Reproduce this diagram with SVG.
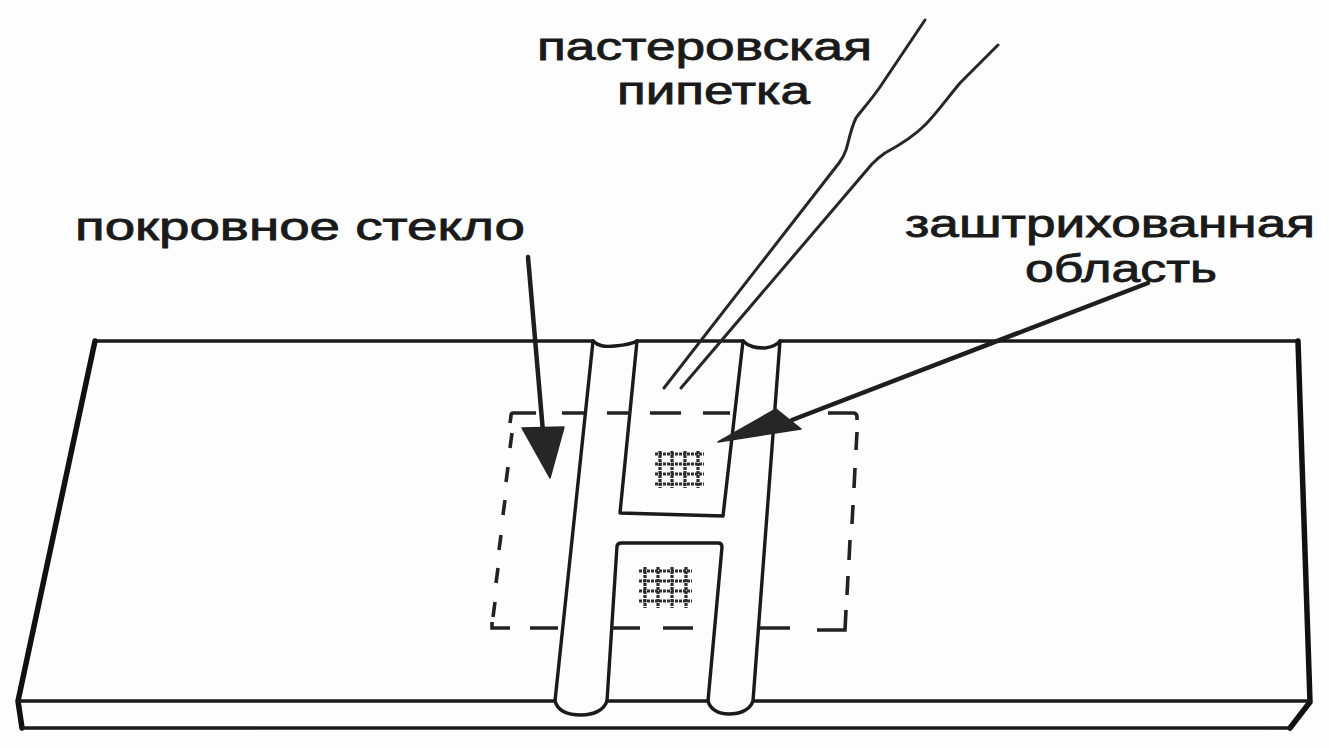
<svg xmlns="http://www.w3.org/2000/svg" width="1329" height="748" viewBox="0 0 1329 748">
<style>
.ln{fill:none;stroke:#1a1a1a;stroke-width:3.4;stroke-linecap:round;stroke-linejoin:round}
.thick{fill:none;stroke:#111;stroke-width:5.5;stroke-linecap:round;stroke-linejoin:round}
.pip{fill:none;stroke:#262626;stroke-width:3;stroke-linecap:round;stroke-linejoin:round}
.dash{fill:none;stroke:#222;stroke-width:3.6;stroke-linecap:butt}
.grid{fill:none;stroke:#2e2e2e;stroke-width:3.2;stroke-dasharray:3 1}
.arr{fill:none;stroke:#1e1e1e;stroke-width:4.5;stroke-linecap:round}
.head{fill:#262626;stroke:#262626;stroke-width:1.5;stroke-linejoin:round}
.lbl{font-family:"Liberation Sans",Arial,sans-serif;font-size:38px;fill:#1a1a1a;stroke:#1a1a1a;stroke-width:0.8}
</style>
<rect width="1329" height="748" fill="#fdfdfd"/>

<g id="slide">
  <path class="ln" d="M95,341 H593 M637,341 H743 M780,341 H1298"/>
  <path class="thick" d="M95,341 L18,701 L22,728"/>
  <path class="thick" d="M1298,341 L1310,702 L1290,728"/>
  <path class="ln" d="M18,701 H555 M607,701 H708 M753,701 H1310"/>
  <path class="ln" d="M22,728 H1290"/>
  <path class="ln" d="M593,341 C598,346 604,347 615,346 C626,345 632,344 637,341"/>
  <path class="ln" d="M593,341 L555,701 C558,712 569,715 581,715 C594,715 604,710 607,701"/>
  <path class="ln" d="M743,341 C749,347 756,348 765,348 C772,347 777,345 780,341"/>
  <path class="ln" d="M780,341 L753,701 C750,710 740,714 729,714 C718,714 710,709 708,701"/>
  <path class="ln" d="M637,341 L620,513 L723,516 L743,341"/>
  <path class="ln" d="M607,701 L617,546 Q618,543 621,543 H718 Q722,543 722,547 L708,701"/>
</g>

<g id="cover-glass">
  <path class="dash" d="M513,413 H536 M562,413 H584 M607,413 H631 M650,413 H681 M703,413 H730 M828,413 H853 Q857,413 857,417 V420"/>
  <path class="dash" d="M513,413 Q511,413 511,416 L510,423 M512,433 L510,448 M508,467 L506,482 M505,500 L503,515 M501,535 L499,550 M498,568 L496,583 M495,602 L493,617 M492,622 L492,628 H510"/>
  <path class="dash" d="M857,432 L856,450 M855,468 L854,488 M853,505 L852,524 M850,540 L849,560 M848,576 L847,595 M846,610 L845,630 H817"/>
  <path class="dash" d="M530,628 H558 M610,628 H640 M663,628 H693 M760,628 H790"/>
</g>

<g id="grids">
  <path class="grid" d="M660,451 V488 M672,451 V488 M685,451 V488 M698,451 V488 M655,454 H704 M655,464 H704 M655,474 H704 M655,484 H704"/>
  <path class="grid" d="M645,567 V608 M658,567 V608 M672,567 V608 M686,567 V608 M639,571 H692 M639,581 H692 M639,591 H692 M639,601 H692"/>
</g>

<g id="pipette">
  <path class="pip" d="M925,20 L880,87 C868,104 860,112 856,118 C851,128 849,140 846,150 C844,156 842,159 839,163 L664,388"/>
  <path class="pip" d="M998,45 L960,83 C946,100 935,115 925,125 C912,138 898,146 885,153 C879,157 876,160 872,164 L681,388"/>
</g>

<g id="connectors">
  <g id="arrow-cover">
    <path class="arr" d="M528,257 L543,432"/>
    <path class="head" d="M522,428 L564,427 L550,478 Z"/>
  </g>
  <g id="arrow-hatched">
    <path class="arr" d="M1148,283 L792,420"/>
    <path class="head" d="M718,442 L776,409 L801,429 Z"/>
  </g>
</g>

<g id="labels">
  <text class="lbl" x="537" y="60" textLength="335" lengthAdjust="spacingAndGlyphs">пастеровская</text>
  <text class="lbl" x="617" y="104" textLength="193" lengthAdjust="spacingAndGlyphs">пипетка</text>
  <text class="lbl" x="75" y="240" textLength="450" lengthAdjust="spacingAndGlyphs">покровное стекло</text>
  <text class="lbl" x="905" y="237" textLength="410" lengthAdjust="spacingAndGlyphs">заштрихованная</text>
  <text class="lbl" x="1025" y="282" textLength="192" lengthAdjust="spacingAndGlyphs">область</text>
</g>
</svg>
